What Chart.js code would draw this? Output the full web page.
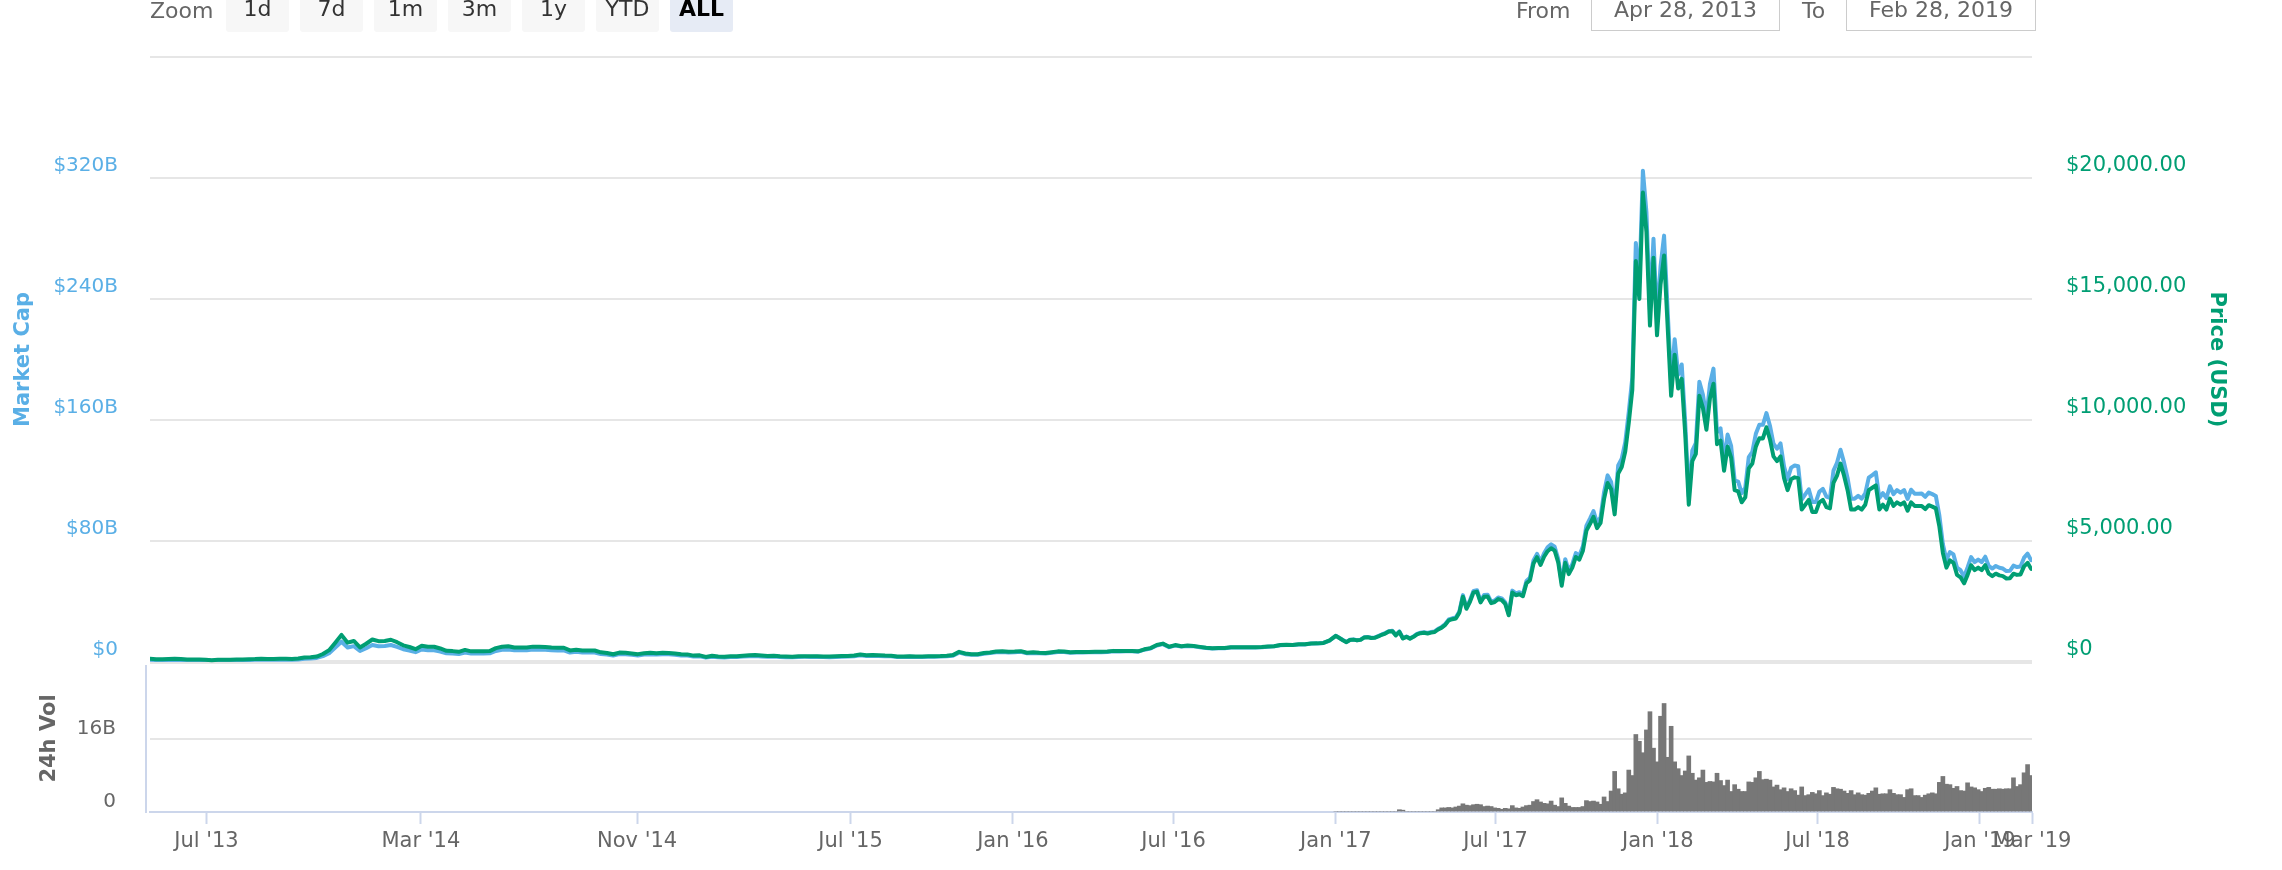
<!DOCTYPE html>
<html>
<head>
<meta charset="utf-8">
<title>Bitcoin market cap, price and volume</title>
<script src="https://cdn.jsdelivr.net/npm/chart.js@4.4.1/dist/chart.umd.min.js"></script>
<style>
  html, body { margin: 0; padding: 0; background: #fff; }
  body { width: 2282px; height: 870px; position: relative; overflow: hidden; font-family: "DejaVu Sans", sans-serif; }
  #marketChart { position: absolute; left: 0; top: 0; }
  .lbl { position: absolute; top: 0; font-size: 22px; line-height: 22px; color: #666; }
  .btn { position: absolute; top: -12px; width: 63px; height: 44px; box-sizing: border-box; padding-top: 10px;
         background: #f7f7f7; border-radius: 3px; font-size: 22px; line-height: 22px; color: #333; text-align: center; }
  .btn.active { background: #e6ebf5; color: #000; font-weight: bold; }
  .dateBox { position: absolute; top: -10px; height: 41px; box-sizing: border-box; padding-top: 8px; border: 1px solid #ccc;
             font-size: 22px; line-height: 22px; color: #666; text-align: center; }
</style>
</head>
<body>
<canvas id="marketChart" width="2282" height="870"></canvas>

<div class="lbl" style="left:150px">Zoom</div>
<div class="btn" style="left:226px">1d</div>
<div class="btn" style="left:300px">7d</div>
<div class="btn" style="left:374px">1m</div>
<div class="btn" style="left:448px">3m</div>
<div class="btn" style="left:522px">1y</div>
<div class="btn" style="left:596px">YTD</div>
<div class="btn active" style="left:670px">ALL</div>
<div class="lbl" style="left:1516px">From</div>
<div class="dateBox" style="left:1591px;width:189px">Apr 28, 2013</div>
<div class="lbl" style="left:1802px">To</div>
<div class="dateBox" style="left:1846px;width:190px">Feb 28, 2019</div>

<script>
// weekly samples (Sundays) from 2013-04-28 to 2016-12-25
const weeklyStart = '2013-04-28';
const weeklyPrice = [
  135, 115,115,122,133, 122,100,100,107,97, 70,95,90,97, 105,108,113,122, 138,125,127,133,135, 123,141,183,195, 225,330,490,800, 1120,800,870,600,755,
  930,860,870,920, 820,690,620,530, 670,630,630,560,465, 450,420,500,440, 440,440,450,575, 630,650,600,600,600, 635,630,620,595, 585,590,480,510,480, 480,475,400,375, 320,390,385,355, 325,365,385,365,380, 375,350,320,315,
  265,275,210,255, 225,220,235,235, 260,275,285,265,245, 260,235,225,220, 240,240,236,240,230, 225,234,245,250, 270,310,275,290, 280,265,260,230,230, 240,230,231,233, 240,247,263,285, 420,350,320,323,370, 395,435,440,420,
  430,448,385,400,380, 375,405,440,433, 405,415,410,418, 420,420,430,460, 450,458,455,440,525, 575,700,760,630, 700,650,680,660,625, 590,570,580,575, 610,608,610,605, 612,618,640,655,700, 710,705,730,730, 765,770,790,890
];
const weeklyMarketCap = [
  1.50, 1.28,1.28,1.36,1.49, 1.37,1.13,1.13,1.21,1.10, 0.80,1.08,1.03,1.11, 1.21,1.24,1.30,1.41, 1.60,1.45,1.48,1.55,1.58, 1.44,1.66,2.16,2.30, 2.67,3.92,5.84,9.55, 13.41,9.60,10.47,7.24,9.13,
  11.27,10.45,10.60,11.23, 10.04,8.47,7.63,6.53, 8.28,7.81,7.82,6.97,5.80, 5.63,5.27,6.29,5.54, 5.56,5.57,5.71,7.31, 8.03,8.31,7.69,7.70,7.72, 8.19,8.15,8.04,7.73, 7.62,7.70,6.28,6.69,6.31, 6.32,6.27,5.29,4.97, 4.25,5.19,5.14,4.75, 4.36,4.91,5.19,4.93,5.14, 5.09,4.76,4.36,4.30,
  3.63,3.77,2.88,3.51, 3.10,3.04,3.25,3.25, 3.61,3.82,3.97,3.70,3.43, 3.64,3.30,3.16,3.10, 3.38,3.39,3.34,3.40,3.27, 3.20,3.33,3.50,3.58, 3.87,4.45,3.95,4.18, 4.04,3.83,3.76,3.34,3.34, 3.49,3.35,3.37,3.41, 3.52,3.63,3.87,4.20, 6.20,5.17,4.74,4.79,5.49, 5.88,6.48,6.57,6.28,
  6.44,6.72,5.78,6.02,5.73, 5.66,6.12,6.67,6.57, 6.16,6.32,6.25,6.38, 6.43,6.43,6.60,7.07, 6.93,7.06,7.03,6.81,8.14, 8.92,10.89,11.83,9.83, 10.93,10.17,10.64,10.34,9.80, 9.26,8.95,9.11,9.04, 9.60,9.58,9.62,9.55, 9.66,9.76,10.12,10.37,11.09, 11.26,11.19,11.59,11.61, 12.17,12.26,12.58,14.20
];

// samples every 4 days from 2017-01-01 to 2019-02-28
const lateStart = '2017-01-01';
const latePrice = [
  1080,990,900,820,910,925,895,915, 1010,1025,995,1000,1055,1125,1175, 1260,1275,1100,1245,970,1040,965,1040, 1145,1190,1210,1180,1215,1240,1345,
  1420,1535,1720,1770,1800,2040,2700,2200, 2490,2870,2900,2460,2700,2710,2430,2480, 2600,2560,2400,1930,2870,2760,2800, 2720,3250,3380,4070,4330,4010,4350,4580,
  4700,4600,4120,3150,4100,3630,3900,4340, 4230,4600,5430,5700,6000,5530,5750, 6740,7400,7140,6100,7790,8060,8700,9890, 11250,16570,15000,19400,17780,13900,16700,13500,
  15600,16800,13900,11000,12700,11300,11700, 9400,6500,8300,8600,11000,10500,9600, 10900,11500,9000,9150,7900,8900,8450,7100, 7050,6600,6800,8000,8200,8900,9250,9240,
  9700,9200,8500,8300,8500,7600,7100, 7550,7630,7600,6300,6500,6700,6200,6200, 6600,6700,6400,6350,7400,7700,8200,7700, 7100,6300,6300,6400,6300,6500,7100,
  7200,7300,6300,6500,6300,6750,6450,6600, 6500,6600,6250,6600,6450,6450,6450,6320, 6480,6420,6350,5600,4500,3900,4200, 4100,3600,3500,3250,3600,4000,3800,3900,
  3800,4000,3650,3550,3650,3580,3550,3450, 3460,3650,3600,3620,3950,4100,3850
];
const lateMarketCap = [
  17.4,15.9,14.5,13.2,14.7,14.9,14.4,14.8, 16.3,16.6,16.1,16.2,17.1,18.2,19.1, 20.4,20.7,17.9,20.2,15.8,16.9,15.7,16.9, 18.6,19.4,19.7,19.2,19.8,20.2,22.0,
  23.2,25.1,28.1,28.9,29.4,33.4,44.2,36.0, 40.8,47.0,47.5,40.3,44.3,44.5,39.9,40.7, 42.7,42.1,39.5,31.7,47.2,45.4,46.1, 44.8,53.6,55.8,67.2,71.5,66.2,71.9,75.8,
  77.8,76.2,68.3,52.2,68.0,60.2,64.7,72.0, 70.3,76.5,90.2,94.8,99.8,92.1,95.7, 112.3,123.4,119.0,101.7,130.0,134.5,145.3,165.3, 188.1,277.1,250.9,324.8,297.6,232.8,279.9,226.3,
  261.6,281.9,233.2,184.7,213.4,190.0,196.7, 158.1,109.4,139.7,144.8,185.3,176.9,161.9, 183.9,194.0,151.9,154.5,133.4,150.4,142.9,120.1, 119.3,111.7,115.1,135.5,139.0,150.9,156.9,156.8,
  164.6,156.2,144.4,141.0,144.5,129.3,120.8, 128.5,129.9,129.4,107.4,110.8,114.2,105.8,105.8, 112.7,114.4,109.4,108.5,126.5,131.7,140.3,131.8, 121.6,107.9,108.0,109.8,108.0,111.5,121.9,
  123.6,125.4,108.3,111.7,108.4,116.2,111.0,113.7, 112.0,113.7,107.8,113.9,111.3,111.3,111.4,109.2, 112.0,111.0,109.8,96.9,77.9,67.5,72.7, 71.1,62.4,60.7,56.4,62.5,69.4,66.0,67.7,
  66.0,69.6,63.5,61.8,63.5,62.3,61.8,60.1, 60.3,63.7,62.8,63.2,69.0,71.6,67.3
];
const lateVolume = [
  0,0,0,0,0,0,0,0, 0,0,0,0,0,0,0, 0,0,0,0.5,0.4,0,0,0, 0,0,0,0,0,0,0.5,
  0.9,0.9,1.0,0.9,1.1,1.3,1.8,1.5, 1.4,1.6,1.7,1.6,1.2,1.3,1.2,0.9, 0.8,0.6,0.8,0.7,1.4,0.9,0.8, 1.1,1.4,1.5,2.3,2.7,2.2,1.9,1.8,
  2.4,1.5,1.2,3.1,1.9,1.3,1.0,1.0, 1.0,1.2,2.5,2.3,2.4,2.2,1.7, 3.3,2.3,4.6,8.9,5.1,3.9,4.2,9.2, 8.0,17.0,15.5,13.0,18.0,22.0,14.0,11.0,
  21.0,23.8,12.0,18.8,11.0,9.5,8.0, 9.0,12.3,8.5,7.0,7.5,9.2,6.5, 6.7,6.6,8.5,6.9,5.8,7.0,4.5,6.0, 5.0,4.5,4.5,6.6,6.5,7.5,8.9,7.1,
  7.2,7.0,5.5,5.9,4.9,5.3,4.5, 5.1,4.7,3.7,5.5,3.6,3.8,4.3,4.0, 4.7,3.6,4.2,3.9,5.4,5.1,5.0,4.6, 4.1,4.7,3.8,4.2,3.8,3.7,4.1,
  4.6,5.3,3.9,4.0,4.0,4.9,4.1,3.8, 3.8,3.2,4.9,5.1,3.6,3.6,3.2,3.7, 4.0,4.2,4.0,6.5,7.8,6.1,6.0, 5.2,5.6,4.7,4.6,6.4,5.5,5.3,4.9,
  4.5,5.2,5.4,5.0,5.0,5.1,5.0,5.1, 5.1,7.5,5.6,6.0,8.6,10.4,8.0
];

const xTickDates = ['2013-07-01','2014-03-01','2014-11-01','2015-07-01','2016-01-01','2016-07-01','2017-01-01','2017-07-01','2018-01-01','2018-07-01','2019-01-01','2019-03-01'];
const xTickLabels = ["Jul '13","Mar '14","Nov '14","Jul '15","Jan '16","Jul '16","Jan '17","Jul '17","Jan '18","Jul '18","Jan '19","Mar '19"];
const capTicks = [0, 80, 160, 240, 320, 400];
const priceTicks = [0, 5000, 10000, 15000, 20000];
const volTicks = [0, 16];

const capColor = '#5aafe6';
const priceColor = '#009e73';
const volColor = '#777777';
const gridColor = '#e6e6e6';
const axisColor = '#ccd6eb';

// market cap and volume share the left column (stacked); price spans the full height
const capMax = 400;
const priceMin = -6198, priceMax = 25000;
const volMax = 32.9;

const DAY = 86400000;
function toTime(d) { return Date.parse(d + 'T00:00:00Z'); }
function seriesFrom(start, step, values) {
  const t0 = toTime(start);
  return values.map((v, i) => ({ x: t0 + i * step * DAY, y: v }));
}

const priceData = seriesFrom(weeklyStart, 7, weeklyPrice).concat(seriesFrom(lateStart, 4, latePrice));
const capData = seriesFrom(weeklyStart, 7, weeklyMarketCap).concat(seriesFrom(lateStart, 4, lateMarketCap));
const volData = seriesFrom(lateStart, 4, lateVolume);

function fmtPrice(v) {
  if (v === 0) return '$0';
  return '$' + v.toLocaleString('en-US', { minimumFractionDigits: 2, maximumFractionDigits: 2 });
}

// rotated axis titles and the short volume axis line
const axisTitles = {
  id: 'axisTitles',
  afterDraw(chart) {
    const { ctx, scales } = chart;
    const cap = scales.y, vol = scales.yVol;
    const volTop = cap.bottom + 3;

    function title(text, x, y, angle, color) {
      ctx.save();
      ctx.translate(x, y);
      ctx.rotate(angle);
      ctx.fillStyle = color;
      ctx.font = 'bold 21px "DejaVu Sans"';
      ctx.textAlign = 'center';
      ctx.textBaseline = 'alphabetic';
      ctx.fillText(text, 0, 0);
      ctx.restore();
    }
    title('Market Cap', 28.5, (cap.top + cap.bottom) / 2, -Math.PI / 2, capColor);
    title('Price (USD)', 2211, (cap.top + cap.bottom) / 2, Math.PI / 2, priceColor);
    title('24h Vol', 55, (volTop + vol.bottom) / 2, -Math.PI / 2, '#666666');

    ctx.save();
    ctx.strokeStyle = axisColor;
    ctx.lineWidth = 2;
    ctx.beginPath();
    ctx.moveTo(vol.right - 4, volTop);
    ctx.lineTo(vol.right - 4, vol.bottom + 1);
    ctx.stroke();
    ctx.restore();
  }
};

Chart.defaults.font.family = '"DejaVu Sans", sans-serif';

const ctx = document.getElementById('marketChart').getContext('2d');
const marketChart = new Chart(ctx, {
  type: 'line',
  data: {
    datasets: [
      {
        label: 'Price (USD)',
        data: priceData,
        yAxisID: 'yPrice',
        borderColor: priceColor,
        borderWidth: 4,
        pointRadius: 0,
        borderJoinStyle: 'round',
        borderCapStyle: 'round',
        order: 0
      },
      {
        label: 'Market Cap',
        data: capData,
        yAxisID: 'y',
        borderColor: capColor,
        borderWidth: 4,
        pointRadius: 0,
        borderJoinStyle: 'round',
        borderCapStyle: 'round',
        order: 1
      },
      {
        type: 'bar',
        label: '24h Vol',
        data: volData,
        yAxisID: 'yVol',
        backgroundColor: volColor,
        barThickness: 4,
        borderWidth: 0,
        grouped: false,
        order: 2
      }
    ]
  },
  options: {
    responsive: false,
    animation: false,
    devicePixelRatio: 1,
    layout: { padding: { top: 57, left: 0, right: 0, bottom: 0 } },
    plugins: { legend: { display: false }, tooltip: { enabled: false } },
    scales: {
      x: {
        type: 'linear',
        offset: false,
        min: toTime(weeklyStart),
        max: toTime('2019-03-01'),
        afterBuildTicks: s => { s.ticks = xTickDates.map(d => ({ value: toTime(d) })); },
        ticks: {
          autoSkip: false, maxRotation: 0, color: '#666666', padding: 5,
          font: { size: 21 },
          callback: (v, i) => xTickLabels[i]
        },
        grid: { offset: false, drawOnChartArea: false, drawTicks: true, tickLength: 12, tickColor: axisColor, tickWidth: 2 },
        border: { display: true, color: axisColor, width: 2 },
        afterFit: s => { s.height = 58; }
      },
      y: {
        position: 'left', stack: 'left', stackWeight: 605, weight: 1, min: 0, max: capMax,
        afterBuildTicks: s => { s.ticks = capTicks.map(v => ({ value: v })); },
        ticks: {
          color: capColor, padding: 32, labelOffset: -12, font: { size: 20 },
          callback: v => v >= capMax ? '' : (v === 0 ? '$0' : '$' + v + 'B')
        },
        grid: { color: gridColor, lineWidth: c => (c.tick && c.tick.value === 0 ? 4 : 2), drawTicks: false },
        border: { display: false },
        afterFit: s => { s.width = 150; }
      },
      yVol: {
        position: 'left', stack: 'left', stackWeight: 150, weight: 0, min: 0, max: volMax,
        afterBuildTicks: s => { s.ticks = volTicks.map(v => ({ value: v })); },
        ticks: {
          color: '#666666', padding: 34, labelOffset: -10, font: { size: 20 },
          callback: v => v === 0 ? '0' : v + 'B'
        },
        grid: { color: c => (c.tick && c.tick.value === 0 ? 'rgba(0,0,0,0)' : gridColor), lineWidth: 2, drawTicks: false },
        border: { display: false },
        afterFit: s => { s.width = 150; }
      },
      yPrice: {
        position: 'right', min: priceMin, max: priceMax,
        afterBuildTicks: s => { s.ticks = priceTicks.map(v => ({ value: v })); },
        ticks: {
          color: priceColor, padding: 34, labelOffset: -12, font: { size: 21 },
          callback: v => fmtPrice(v)
        },
        grid: { display: false, drawTicks: false },
        border: { display: false },
        afterFit: s => { s.width = 250; }
      }
    }
  },
  plugins: [axisTitles]
});
</script>
</body>
</html>
